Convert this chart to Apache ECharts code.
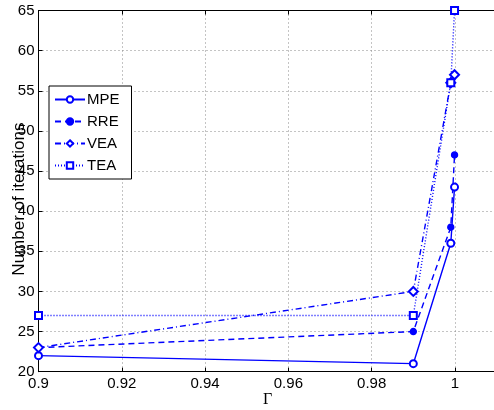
<!DOCTYPE html>
<html>
<head>
<meta charset="utf-8">
<script src="https://cdn.jsdelivr.net/npm/echarts@6/dist/echarts.min.js"></script>
<style>html,body{margin:0;padding:0;background:#fff}#c{width:494px;height:410px}</style>
</head>
<body>
<div id="c"></div>
<script>
const gamma = [0.9, 0.99, 0.999, 0.9999];
const seriesNames = ['MPE', 'RRE', 'VEA', 'TEA'];
const mpe = [22, 21, 36, 43];
const rre = [23, 25, 38, 47];
const vea = [23, 30, 56, 57];
const tea = [27, 27, 56, 65];
const xTicks = [0.9, 0.92, 0.94, 0.96, 0.98, 1];
const yTicks = [20, 25, 30, 35, 40, 45, 50, 55, 60, 65];

const pairs = arr => gamma.map((g, i) => [g, arr[i]]);
const blue = '#0000ff';
const font = 'Liberation Sans, Arial, Helvetica, sans-serif';

const chart = echarts.init(document.getElementById('c'), null, {renderer: 'canvas'});
const styles = {
  MPE: {symbol: 'emptyCircle', size: 7, type: 'solid'},
  RRE: {symbol: 'circle', size: 6, type: [6, 4]},
  VEA: {symbol: 'emptyDiamond', size: 9, type: [6, 3, 1, 3]},
  TEA: {symbol: 'emptyRect', size: 7, type: [1, 2]}
};
const dataMap = {MPE: mpe, RRE: rre, VEA: vea, TEA: tea};

chart.setOption({
  animation: false,
  grid: {left: 38.5, right: -2.6, top: 10.5, bottom: 38.3, containLabel: false, outerBoundsMode: 'none'},
  legend: {
    orient: 'vertical', left: 49, top: 86,
    data: seriesNames,
    itemWidth: 30, itemHeight: 8, itemGap: 7,
    padding: [6, 12, 6, 5],
    backgroundColor: '#fff', borderColor: '#000', borderWidth: 1,
    textStyle: {fontFamily: font, fontSize: 15, color: '#000', padding: [0, 0, 0, -3]}
  },
  xAxis: [{
    type: 'value', min: 0.9, max: 1.01, interval: 0.02,
    name: 'Γ', nameLocation: 'middle', nameGap: 20, nameMoveOverlap: false,
    nameTextStyle: {fontFamily: 'Liberation Serif, Times New Roman, serif', fontSize: 16, color: '#000'},
    axisLine: {lineStyle: {color: '#000', width: 1}},
    axisTick: {inside: true, length: 4, lineStyle: {color: '#000'}},
    axisLabel: {fontFamily: font, fontSize: 15, color: '#000', margin: 5, showMaxLabel: false,
      formatter: v => (xTicks.some(t => Math.abs(t - v) < 1e-6) ? String(+v.toFixed(2)) : '')},
    splitLine: {show: true, lineStyle: {color: '#888', type: [1, 3], width: 1}}
  }, {
    type: 'value', min: 0.9, max: 1.01, interval: 0.02, position: 'top',
    axisLine: {lineStyle: {color: '#000', width: 1}},
    axisTick: {inside: true, length: 4, lineStyle: {color: '#000'}},
    axisLabel: {show: false}, splitLine: {show: false}
  }],
  yAxis: [{
    type: 'value', min: 20, max: 65, interval: 5,
    name: 'Number of iterations', nameLocation: 'middle', nameGap: 11, nameMoveOverlap: false,
    nameTextStyle: {fontFamily: font, fontSize: 17, color: '#000', padding: [0, 16, 0, 0]},
    axisLine: {lineStyle: {color: '#000', width: 1}},
    axisTick: {inside: true, length: 4, lineStyle: {color: '#000'}},
    axisLabel: {fontFamily: font, fontSize: 15, color: '#000', margin: 4,
      formatter: v => (yTicks.includes(v) ? String(v) : '')},
    splitLine: {show: true, lineStyle: {color: '#888', type: [1, 3], width: 1}}
  }],
  series: seriesNames.map(n => ({
    name: n, type: 'line', xAxisIndex: 0, yAxisIndex: 0,
    data: pairs(dataMap[n]),
    symbol: styles[n].symbol, symbolSize: styles[n].size,
    showAllSymbol: true,
    color: blue,
    lineStyle: {color: blue, width: 1.4, type: styles[n].type},
    itemStyle: {color: blue, borderColor: blue, borderWidth: 1.4},
    z: 3
  }))
});
</script>
</body>
</html>
